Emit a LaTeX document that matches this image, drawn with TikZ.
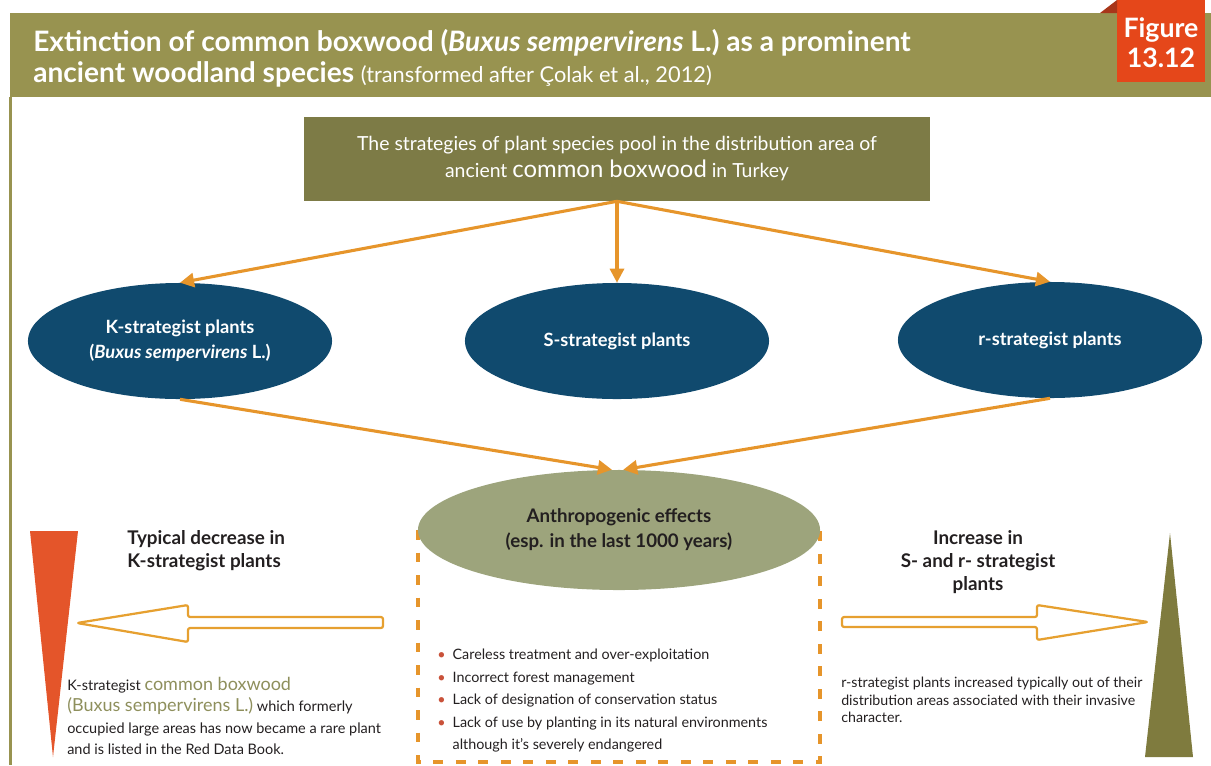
\documentclass[tikz,border=0pt]{standalone}
\usepackage{fontspec}
\setmainfont{Lato}
\usetikzlibrary{positioning,arrows.meta,shapes.geometric}
\definecolor{headol}{HTML}{989350}
\definecolor{poolol}{HTML}{7D7B46}
\definecolor{navy}{HTML}{104A6E}
\definecolor{sage}{HTML}{9DA47C}
\definecolor{arrorange}{HTML}{E6952B}
\definecolor{blkorange}{HTML}{E6A030}
\definecolor{figred}{HTML}{E5471A}
\definecolor{foldred}{HTML}{A8361A}
\definecolor{leftred}{HTML}{E4552A}
\definecolor{rightol}{HTML}{7F7B3E}
\definecolor{boxol}{HTML}{8E8F5C}
\definecolor{textdark}{HTML}{231F20}
\definecolor{bulred}{HTML}{C9523A}
\tikzset{
title/.style={
anchor=west,
inner sep=0pt,
text=white,
font=\fontsize{20}{22}\selectfont\bfseries
},
poolbox/.style={
fill=poolol,
text=white,
minimum width=15.625cm,
minimum height=2.1cm,
align=center,
font=\fontsize{13.8}{19.2}\selectfont
},
strat/.style={
ellipse,
fill=navy,
text=white,
minimum width=7.6cm,
minimum height=2.9cm,
inner sep=0pt,
align=center,
font=\fontsize{13}{17.5}\selectfont\bfseries
},
anthro/.style={
ellipse,
fill=sage,
text=textdark,
minimum width=10.05cm,
minimum height=3cm,
inner sep=0pt,
align=center,
font=\fontsize{13.3}{17.8}\selectfont\bfseries
},
arrow/.style={
-{Triangle[length=10pt,width=10pt]},
line width=2.2pt,
draw=arrorange
},
blockarrow/.style={
draw=blkorange,
line width=1.6pt,
fill=white,
rounded corners=1.5pt,
line join=round
},
dashbox/.style={
draw=arrorange,
line width=2.2pt,
dash pattern=on 7pt off 9pt
},
heading/.style={
inner sep=0pt,
text=textdark,
font=\fontsize{13.4}{16.2}\selectfont\bfseries
},
note/.style={
inner sep=0pt,
anchor=west,
align=left,
text=textdark
}
}
\newcommand{\boxwd}[1]{{\color{boxol}\fontsize{12.8}{15.3}\selectfont #1}}

\begin{document}
\begin{tikzpicture}[x=0.025cm,y=-0.025cm]
\useasboundingbox (0,0) rectangle (1211,765);
\fill[headol] (10,13) rectangle (1211,97);
\fill[headol] (9,97) rectangle (12,765);
\fill[figred] (1117,0) rectangle (1205,82);
\fill[foldred] (1100,13) -- (1117,0) -- (1117,13) -- cycle;
\node[title] (title1) at (33,43) {Extinction of common boxwood (\textit{Buxus sempervirens} L.) as a prominent};
\node[title] (title2) at (33,74) {ancient woodland species {\mdseries\fontsize{15.5}{17}\selectfont(transformed after Çolak et al., 2012)}};
\node[inner sep=0pt,text=white,align=center,font=\fontsize{19}{21.5}\selectfont\bfseries] (fig) at (1161,43) {Figure\\13.12};

\node[poolbox] (pool) at (617,159) {The strategies of plant species pool in the distribution area of\\ancient {\fontsize{17}{19.2}\selectfont common boxwood} in Turkey};
\node[strat] (kplants) at (180,341) {K-strategist plants\\(\textit{Buxus sempervirens} L.)};
\node[strat] (splants) at (617,341) {S-strategist plants};
\node[strat] (rplants) at (1050,340) {r-strategist plants};

\draw[dashbox] (418,530) rectangle (820,762);
\node[anthro] (anthro) at (619,530) {Anthropogenic effects\\(esp. in the last 1000 years)};

\foreach \y in {kplants,splants,rplants}
\draw[arrow] (pool.south) -- (\y.north);
\draw[arrow] (kplants.south) -- ([xshift=-5pt]anthro.north);
\draw[arrow] (rplants.south) -- ([xshift=3pt]anthro.north);

\node[note,font=\fontsize{10.2}{16}\selectfont] (causes) at (437,700) {%
\begin{tabular}{@{}l@{\hspace{5pt}}l@{}}
\textcolor{bulred}{\textbullet} & Careless treatment and over-exploitation\\
\textcolor{bulred}{\textbullet} & Incorrect forest management\\
\textcolor{bulred}{\textbullet} & Lack of designation of conservation status\\
\textcolor{bulred}{\textbullet} & Lack of use by planting in its natural environments\\
 & although it’s severely endangered
\end{tabular}};

\fill[leftred] (30,531) -- (78,531) -- (53,757) -- cycle;
\fill[rightol] (1170,533) -- (1193,757) -- (1145,757) -- cycle;
\path[blockarrow] (77,623) -- (188,605) -- (188,617) -- (383,617) -- (383,628) -- (188,628) -- (188,642) -- cycle;
\path[blockarrow] (1148,622) -- (1037,605) -- (1037,617) -- (842,617) -- (842,627) -- (1037,627) -- (1037,640) -- cycle;

\node[heading,anchor=west,align=left] (decr) at (127,551) {Typical decrease in\\K-strategist plants};
\node[heading,align=center] (incr) at (978,562) {Increase in\\S- and r- strategist\\plants};

\node[note,font=\fontsize{10.3}{15.3}\selectfont] (knote) at (67,716) {K-strategist \boxwd{common boxwood}\\\boxwd{(Buxus sempervirens L.)} which formerly\\occupied large areas has now became a rare plant\\and is listed in the Red Data Book.};
\node[note,font=\fontsize{10.1}{12.6}\selectfont] (rnote) at (841,700) {r-strategist plants increased typically out of their\\distribution areas associated with their invasive\\character.};
\end{tikzpicture}
\end{document}
